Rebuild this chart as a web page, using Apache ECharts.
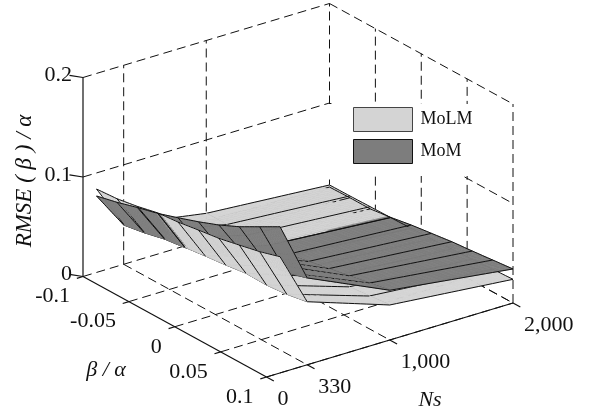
<!DOCTYPE html>
<html><head><meta charset="utf-8">
<style>html,body{margin:0;padding:0;background:#fff}#c{width:593px;height:413px}</style>
<script src="https://cdn.jsdelivr.net/npm/echarts@6/dist/echarts.min.js"></script>
</head><body><div id="c"></div>
<script>
// ---- data ----
const BETA = [-0.1,-0.0778,-0.0556,-0.0333,-0.0111,0.0111,0.0333,0.0556,0.0778,0.1];
const NS = [110,330,1000,2000];
const MOLM_110  = [.0838,.0853,.0888,.0935,.0955,.0987,.1016,.1061,.1107,.1168];
const MOLM_330  = [.0402,.0437,.0485,.0508,.0533,.0555,.0583,.0578,.0597,.0634];
const MOLM_1000 = [.0263,.0262,.0268,.0275,.0280,.0285,.0295,.0310,.0330,.0352];
const MOLM_2000 = [.0176,.0178,.0182,.0185,.0190,.0195,.0205,.0215,.0228,.0238];
const MOM_110   = [.0768,.0817,.0877,.0930,.0998,.1070,.1150,.1245,.1357,.1469];
const MOM_330   = [.0395,.0430,.0478,.0505,.0580,.0660,.0750,.0795,.0814,.0873];
const MOM_1000  = [.0190,.0210,.0230,.0277,.0300,.0340,.0380,.0420,.0460,.0500];
const MOM_2000  = [.0155,.0160,.0160,.0187,.0223,.0251,.0279,.0298,.0320,.0342];
const BETA_TICKS = [-0.1,-0.05,0,0.05,0.1];
const BETA_LABELS = ['-0.1','-0.05','0','0.05','0.1'];
const NS_TICKS = [0,330,1000,2000];
const NS_LABELS = ['0','330','1,000','2,000'];
const Z_TICKS = [0,0.1,0.2];
const Z_LABELS = ['0','0.1','0.2'];

const FONT='"Liberation Serif","Times New Roman",serif';
const LIGHT='#d4d4d4', DARK='#7d7d7d';

// oblique view of the 3D box onto the hidden plane axes
function project(beta,ns,z){
  const b=(beta+0.1)/0.2, n=ns/2000;
  return [83+183.5*b+246.5*n, 276.5+100.5*b-74*n-995*z];
}
const BMIN=-0.1,BMAX=0.1,NMAX=2000,ZMAX=0.2;

// ---- box: dashed grid and solid axes ----
const dashed=[], solid=[];
const seg=(arr,a,b)=>arr.push([a,b]);
Z_TICKS.forEach(z=>{
  if(z>0) seg(dashed,[BMIN,0,z],[BMIN,NMAX,z]);
  seg(dashed,[BMIN,NMAX,z],[BMAX,NMAX,z]);
});
NS_TICKS.slice(1).forEach(n=>{
  seg(dashed,[BMIN,n,0],[BMAX,n,0]);
  seg(dashed,[BMIN,n,0],[BMIN,n,ZMAX]);
});
seg(dashed,[BMIN,0,0],[BMIN,NMAX,0]);
BETA_TICKS.slice(1).forEach(b=>{
  seg(dashed,[b,0,0],[b,NMAX,0]);
  seg(dashed,[b,NMAX,0],[b,NMAX,ZMAX]);
});
seg(solid,[BMIN,0,0],[BMIN,0,ZMAX]);
seg(solid,[BMIN,0,0],[BMAX,0,0]);
seg(solid,[BMAX,0,0],[BMAX,NMAX,0]);
Z_TICKS.forEach(z=>seg(solid,[BMIN,0,z],[BMIN-0.008,-50,z]));
BETA_TICKS.forEach(b=>seg(solid,[b,0,0],[b,-50,0]));
NS_TICKS.forEach(n=>seg(solid,[BMAX,n,0],[BMAX+0.008,n,0]));

// ---- surfaces cut into small facets so the two can intersect ----
const SURF=[
 {fill:LIGHT,rows:[MOLM_110,MOLM_330,MOLM_1000,MOLM_2000],nsLine:['#111','#111','#999','#111']},
 {fill:DARK, rows:[MOM_110,MOM_330,MOM_1000,MOM_2000],nsLine:['#111','#111','#222','#111']}
];
const SUB_B=8, SUB_N=[14,14,18];
const items=[];
function pt(s,u,j,f){
  const i=Math.min(Math.floor(u),BETA.length-2), fu=u-i;
  const beta=BETA[i]*(1-fu)+BETA[i+1]*fu;
  const ns=NS[j]*(1-f)+NS[j+1]*f;
  const a=s.rows[j][i]*(1-fu)+s.rows[j][i+1]*fu;
  const c=s.rows[j+1][i]*(1-fu)+s.rows[j+1][i+1]*fu;
  const z=a*(1-f)+c*f;
  return {beta,ns,z,p:project(beta,ns,z)};
}
// back-to-front: far Ns bands first; in flat bands the higher sheet is on top,
// in the steep first band the view comes from beneath, so the lower sheet is on top
function depth(j,a){
  if(j===0) return 2000-(a.z+0.45*a.ns/2000)*1000;
  return (2-j)*1000+a.z*1000;
}
SURF.forEach(s=>{
  for(let j=0;j<NS.length-1;j++){
    const nv=SUB_N[j];
    for(let i=0;i<BETA.length-1;i++){
      for(let a=0;a<SUB_B;a++){
        const u0=i+a/SUB_B,u1=i+(a+1)/SUB_B;
        for(let c=0;c<nv;c++){
          const f0=c/nv,f1=(c+1)/nv;
          const A=pt(s,u0,j,f0),B=pt(s,u1,j,f0),C=pt(s,u1,j,f1),D=pt(s,u0,j,f1);
          const M=pt(s,(u0+u1)/2,j,(f0+f1)/2);
          items.push({d:depth(j,M),poly:[A.p,B.p,C.p,D.p],fill:s.fill});
          const lb=2.5, ln=4;
          if(a===0) items.push({d:depth(j,pt(s,u0,j,(f0+f1)/2))+lb,line:[A.p,D.p],col:'#111',w:1});
          if(i===BETA.length-2&&a===SUB_B-1) items.push({d:depth(j,pt(s,u1,j,(f0+f1)/2))+lb,line:[B.p,C.p],col:'#111',w:1});
          if(c===0) items.push({d:depth(j,pt(s,(u0+u1)/2,j,f0))+ln,line:[A.p,B.p],col:s.nsLine[j],w:j===2?0.7:1});
          if(j===NS.length-2&&c===nv-1) items.push({d:depth(j,pt(s,(u0+u1)/2,j,f1))+ln,line:[D.p,C.p],col:s.nsLine[3],w:1});
        }
      }
    }
  }
});
items.sort((x,y)=>x.d-y.d);

// ---- text ----
const texts=[];
Z_TICKS.forEach((z,i)=>{const p=project(BMIN,0,z);texts.push({x:p[0]-11,y:p[1]-2,t:Z_LABELS[i],a:'right'});});
BETA_TICKS.forEach((b,i)=>{const p=project(b,0,0);texts.push({x:p[0]-13,y:p[1]+20,t:BETA_LABELS[i],a:'right'});});
NS_TICKS.forEach((n,i)=>{const p=project(BMAX,n,0);texts.push({x:p[0]+11,y:p[1]+22,t:NS_LABELS[i],a:'left'});});
texts.push({x:106,y:370,t:'β / α',a:'center',it:true});
texts.push({x:430,y:400,t:'Ns',a:'center',it:true});
texts.push({x:25,y:181,t:'RMSE ( β ) / α',a:'center',it:true,r:Math.PI/2,size:23});

function lineEl(api,s,dash,w,col){
  const a=api.coord(project(...s[0])),b=api.coord(project(...s[1]));
  return {type:'line',shape:{x1:a[0],y1:a[1],x2:b[0],y2:b[1]},
    style:{stroke:col,lineWidth:w,lineDash:dash||null,fill:null}};
}
const chart=echarts.init(document.getElementById('c'),null,{renderer:'canvas'});
const base={type:'custom',coordinateSystem:'cartesian2d',silent:true,clip:false,progressive:0,animation:false};
chart.setOption({
  animation:false,
  backgroundColor:'#fff',
  grid:{left:0,right:0,top:0,bottom:0},
  xAxis:{type:'value',min:0,max:593,show:false},
  yAxis:{type:'value',min:0,max:413,inverse:true,show:false},
  legend:{
    orient:'vertical',left:329,top:104,padding:[3,6,12,24],itemGap:7,itemWidth:59,itemHeight:24,
    backgroundColor:'#fff',icon:'rect',selectedMode:false,z:20,
    textStyle:{fontFamily:FONT,fontSize:18,color:'#111',padding:[0,0,0,3]},
    data:[
      {name:'MoLM',itemStyle:{color:LIGHT,borderColor:'#444',borderWidth:1}},
      {name:'MoM',itemStyle:{color:DARK,borderColor:'#111',borderWidth:1}}
    ]
  },
  series:[
    Object.assign({},base,{name:'grid',z:1,data:dashed.map((d,i)=>[i]),
      renderItem:(p,api)=>lineEl(api,dashed[p.dataIndex],[9,5],1,'#111')}),
    Object.assign({},base,{name:'axes',z:2,data:solid.map((d,i)=>[i]),
      renderItem:(p,api)=>lineEl(api,solid[p.dataIndex],null,1.2,'#111')}),
    Object.assign({},base,{name:'surfaces',z:3,data:items.map((d,i)=>[i]),
      renderItem:(p,api)=>{
        const it=items[p.dataIndex];
        if(it.poly){
          return {type:'polygon',shape:{points:it.poly.map(q=>api.coord(q))},
            style:{fill:it.fill,stroke:it.fill,lineWidth:0.6}};
        }
        const a=api.coord(it.line[0]),b=api.coord(it.line[1]);
        return {type:'line',shape:{x1:a[0],y1:a[1],x2:b[0],y2:b[1]},
          style:{stroke:it.col,lineWidth:it.w,fill:null}};
      }}),
    Object.assign({},base,{name:'text',z:4,data:texts.map((d,i)=>[i]),
      renderItem:(p,api)=>{
        const t=texts[p.dataIndex], c=api.coord([t.x,t.y]);
        return {type:'text',x:c[0],y:c[1],rotation:t.r||0,
          style:{text:t.t,textAlign:t.a,textVerticalAlign:'middle',fill:'#111',
            fontFamily:FONT,fontStyle:t.it?'italic':'normal',fontSize:t.size||22}};
      }}),
    Object.assign({},base,{name:'MoLM',data:[],itemStyle:{color:LIGHT},renderItem:()=>null}),
    Object.assign({},base,{name:'MoM',data:[],itemStyle:{color:DARK},renderItem:()=>null})
  ]
});
</script></body></html>
